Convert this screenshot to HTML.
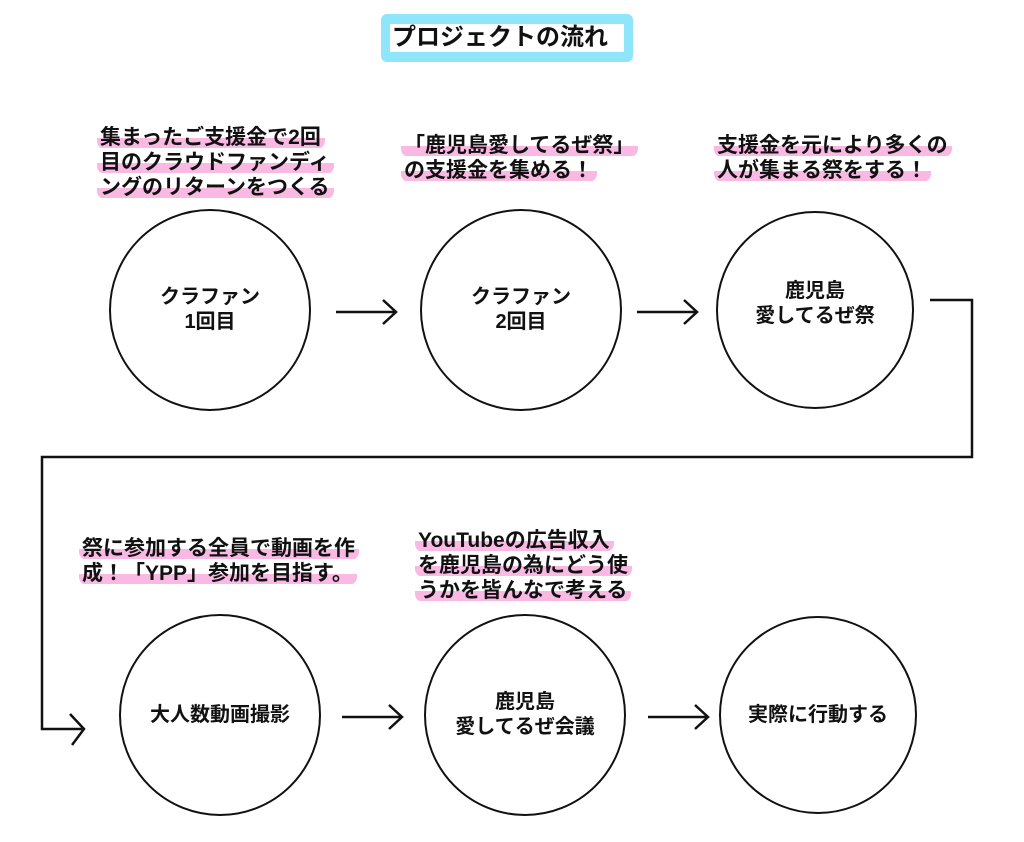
<!DOCTYPE html>
<html><head><meta charset="utf-8"><style>
body{margin:0;width:1024px;height:842px;background:#fff;position:relative;overflow:hidden;font-family:"Liberation Sans","Noto Sans CJK JP",sans-serif;}
.t{position:absolute;font-weight:bold;font-size:21px;line-height:25px;color:#111;white-space:nowrap;letter-spacing:0px}
.t span{background:linear-gradient(to bottom,transparent 52%,#f9b9e3 52%,#f9b9e3 96%,transparent 96%);border-radius:8px;padding:0 4px 0 3px;margin-left:-3px}
.c{position:absolute;font-weight:bold;font-size:20px;line-height:25px;text-align:center;color:#111;}
</style></head><body>
<svg width="1024" height="842" style="position:absolute;left:0;top:0">
<rect x="381" y="14" width="252" height="48" rx="6" fill="#8fe6fb"/>
<rect x="390" y="24" width="234" height="28" fill="#fff"/>
<g fill="none" stroke="#111" stroke-width="2">
<circle cx="210" cy="310" r="100"/>
<circle cx="521" cy="310" r="100"/>
<circle cx="815" cy="310" r="98"/>
<circle cx="220" cy="715" r="100"/>
<circle cx="525" cy="715" r="100"/>
<circle cx="818" cy="715" r="98"/>
</g>
<g fill="none" stroke="#111" stroke-width="2.5">
<path d="M336 312H396M383 300L396 312L383 324"/>
<path d="M637 312H697M684 300L697 312L684 324"/>
<path d="M342 717H402M389 705L402 717L389 729"/>
<path d="M648 717H708M695 705L708 717L695 729"/>
<path d="M930 300H972V457H42V729H82M70 714L84 729L72 745"/>
</g>
</svg>
<div class="t" style="left:392px;top:24px;font-size:24px;line-height:28px">プロジェクトの流れ</div>
<div class="t" style="left:100px;top:125px"><span>集まったご支援金で2回</span><br><span>目のクラウドファンディ</span><br><span>ングのリターンをつくる</span></div>
<div class="t" style="left:404px;top:133px"><span>「鹿児島愛してるぜ祭」</span><br><span>の支援金を集める！</span></div>
<div class="t" style="left:717px;top:133px"><span>支援金を元により多くの</span><br><span>人が集まる祭をする！</span></div>
<div class="t" style="left:82px;top:536px"><span>祭に参加する全員で動画を作</span><br><span>成！「YPP」参加を目指す。</span></div>
<div class="t" style="left:418px;top:528px"><span>YouTubeの広告収入</span><br><span>を鹿児島の為にどう使</span><br><span>うかを皆んなで考える</span></div>
<div class="c" style="left:110px;width:200px;top:285px">クラファン<br>1回目</div>
<div class="c" style="left:421px;width:200px;top:285px">クラファン<br>2回目</div>
<div class="c" style="left:715px;width:200px;top:279px">鹿児島<br>愛してるぜ祭</div>
<div class="c" style="left:120px;width:200px;top:703px">大人数動画撮影</div>
<div class="c" style="left:425px;width:200px;top:690px">鹿児島<br>愛してるぜ会議</div>
<div class="c" style="left:718px;width:200px;top:703px">実際に行動する</div>
</body></html>
